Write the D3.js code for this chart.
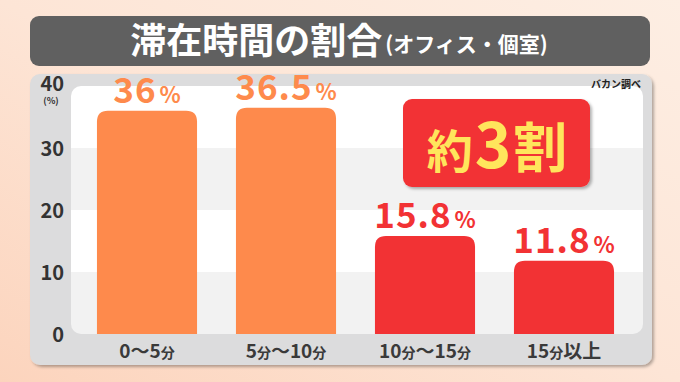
<!DOCTYPE html>
<html><head><meta charset="utf-8">
<script src="https://cdn.jsdelivr.net/npm/d3@7"></script>
<style>html,body{margin:0;padding:0;overflow:hidden;}</style>
</head><body>
<svg id="c" width="680" height="382"></svg>
<script>
const categories = ["0〜5分", "5分〜10分", "10分〜15分", "15分以上"];
const values = [36, 36.5, 15.8, 11.8];
const valueLabels = ["36", "36.5", "15.8", "11.8"];
const yTicks = [0, 10, 20, 30, 40];
const title = "滞在時間の割合";
const subtitle = "(オフィス・個室)";
const source = "バカン調べ";
const callout = ["約", "3", "割"];

const FONT = "'Noto Sans CJK JP','Noto Sans',sans-serif";
const ORANGE = "#fe8a4c", RED = "#f23234";
const colors = [ORANGE, ORANGE, RED, RED];

const svg = d3.select("#c");
const defs = svg.append("defs");
const bg = defs.append("linearGradient").attr("id","bg").attr("x1","0").attr("y1","1").attr("x2","1").attr("y2","0");
bg.append("stop").attr("offset","0").attr("stop-color","#fcd4bd");
bg.append("stop").attr("offset","0.5").attr("stop-color","#fde5d6");
bg.append("stop").attr("offset","1").attr("stop-color","#fdeee3");
const sh = defs.append("filter").attr("id","sh").attr("x","-10%").attr("y","-10%").attr("width","130%").attr("height","130%");
sh.append("feDropShadow").attr("dx",2).attr("dy",2).attr("stdDeviation",1.5).attr("flood-color","#000").attr("flood-opacity",0.3);

svg.append("rect").attr("width",680).attr("height",382).attr("fill","url(#bg)");

// title box
svg.append("rect").attr("x",30).attr("y",16).attr("width",620).attr("height",50).attr("rx",9).attr("fill","#606060");
const tt = svg.append("text").attr("x",339).attr("y",54).attr("text-anchor","middle")
  .attr("font-family",FONT).attr("font-weight",700).attr("fill","#fff");
tt.append("tspan").attr("font-size",36).text(title);
tt.append("tspan").attr("font-size",21).attr("dx",3).attr("dy",-2).text(subtitle);

// panel
svg.append("rect").attr("x",30).attr("y",74).attr("width",622).attr("height",291).attr("rx",10).attr("fill","#dcdcdd").attr("filter","url(#sh)");

const plotL = 71, plotR = 643;
const y = d3.scaleLinear().domain([0,40]).range([334,86]);
const x = d3.scaleBand().domain(categories).range([77.5,633.5]).paddingInner(0.28).paddingOuter(0.14);

// plot background with stripes
const clip = defs.append("clipPath").attr("id","pc");
clip.append("rect").attr("x",plotL).attr("y",y(40)).attr("width",plotR-plotL).attr("height",y(0)-y(40)).attr("rx",10);
const plot = svg.append("g").attr("clip-path","url(#pc)");
d3.range(0,40,10).forEach((t,i)=>{
  plot.append("rect").attr("x",plotL).attr("width",plotR-plotL)
    .attr("y",y(t+10)).attr("height",y(t)-y(t+10))
    .attr("fill", i%2===0 ? "#f2f2f2" : "#ffffff");
});

// y axis
const yAxis = d3.axisLeft(y).tickValues(yTicks).tickSize(0).tickPadding(0);
const ya = svg.append("g").attr("transform","translate(64,0)").call(yAxis);
ya.select(".domain").remove();
ya.selectAll("text").attr("font-family",FONT).attr("font-weight",700).attr("font-size",20).attr("fill","#333").attr("dy","0.36em");
ya.selectAll(".tick").filter(d=>d===40).select("text").attr("dy","0.22em");
svg.append("text").attr("x",51).attr("y",104).attr("text-anchor","middle").attr("font-family",FONT).attr("font-weight",700)
  .attr("font-size",9).attr("fill","#333").text("(%)");

// bars
const rr = 11;
function barPath(x0,w,yt,yb){
  const r = Math.min(rr,(yb-yt));
  return `M${x0},${yb}V${yt+r}Q${x0},${yt} ${x0+r},${yt}H${x0+w-r}Q${x0+w},${yt} ${x0+w},${yt+r}V${yb}Z`;
}
plot.selectAll("path.bar").data(values).join("path").attr("class","bar")
  .attr("d",(d,i)=>barPath(x(categories[i]),x.bandwidth(),y(d),y(0)))
  .attr("fill",(d,i)=>colors[i]);

// value labels
values.forEach((v,i)=>{
  const t = svg.append("text").attr("x",x(categories[i])+x.bandwidth()/2).attr("y",y(v)-8)
    .attr("text-anchor","middle").attr("font-family",FONT).attr("font-weight",700).attr("fill",colors[i]);
  t.append("tspan").attr("font-size",35).attr("letter-spacing",1).text(valueLabels[i]);
  t.append("tspan").attr("font-size",22).attr("dx",3).text("%");
});

// x axis labels
const xAxis = d3.axisBottom(x).tickSize(0).tickPadding(0).tickFormat("");
const xa = svg.append("g").attr("transform","translate(0,334)").call(xAxis);
xa.select(".domain").remove();
xa.selectAll(".tick").each(function(d){
  const t = d3.select(this).append("text").attr("y",24).attr("text-anchor","middle")
    .attr("font-family",FONT).attr("font-weight",700).attr("fill","#3a3a3a");
  d.split(/(分)/).filter(s=>s.length).forEach(s=>{
    t.append("tspan").attr("font-size", s==="分" ? 14 : 19).text(s);
  });
});

// source
svg.append("text").attr("x",641).attr("y",88).attr("text-anchor","end").attr("font-family",FONT).attr("font-weight",700)
  .attr("font-size",10).attr("fill","#222").text(source);

// callout
svg.append("rect").attr("x",403).attr("y",99).attr("width",187).attr("height",88).attr("rx",9).attr("fill",RED).attr("filter","url(#sh)");
const ct = svg.append("text").attr("x",497).attr("y",168).attr("text-anchor","middle").attr("font-family",FONT).attr("font-weight",700).attr("fill","#ffe55c");
ct.append("tspan").attr("font-size",46).text(callout[0]);
ct.append("tspan").attr("font-size",62).attr("dx",2).text(callout[1]);
ct.append("tspan").attr("font-size",54).attr("dx",2).text(callout[2]);
</script>
</body></html>
